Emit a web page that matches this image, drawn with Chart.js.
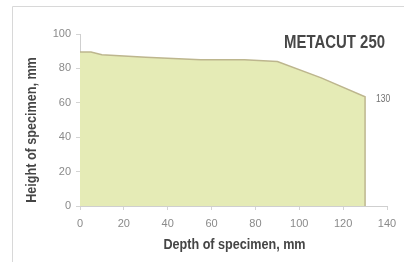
<!DOCTYPE html>
<html>
<head>
<meta charset="utf-8">
<script src="https://cdn.jsdelivr.net/npm/chart.js@4"></script>
<style>
html,body{margin:0;padding:0;background:#fff;}
#wrap{position:relative;width:404px;height:262px;}
</style>
</head>
<body>
<div id="wrap"><canvas id="c" width="404" height="262"></canvas></div>
<script>
const depth = [0, 5, 10, 30, 55, 75, 90, 110, 130, 130];
const height = [89.5, 89.5, 88, 86.5, 85, 85, 84, 74.5, 63.5, 0];
const xTicks = [0, 20, 40, 60, 80, 100, 120, 140];
const yTicks = [0, 20, 40, 60, 80, 100];
const titleText = "METACUT 250";
const endLabel = "130";
const xTitle = "Depth of specimen, mm";
const yTitle = "Height of specimen, mm";

const FONT = '"Liberation Sans", Arial, sans-serif';

function condensedText(ctx, text, x, y, sx, align) {
  ctx.save();
  ctx.translate(x, y);
  ctx.scale(sx, 1);
  ctx.textAlign = align;
  ctx.fillText(text, 0, 0);
  ctx.restore();
}

const decor = {
  id: 'decor',
  beforeDraw(chart) {
    const ctx = chart.ctx;
    ctx.save();
    ctx.strokeStyle = '#d8d8d8';
    ctx.lineWidth = 1;
    ctx.beginPath();
    ctx.moveTo(12.5, 262);
    ctx.lineTo(12.5, 6.5);
    ctx.lineTo(404, 6.5);
    ctx.stroke();
    ctx.restore();
  },
  afterDraw(chart) {
    const ctx = chart.ctx;
    const xs = chart.scales.x, ys = chart.scales.y;
    const area = chart.chartArea;
    ctx.save();
    ctx.textBaseline = 'middle';
    // main title
    ctx.fillStyle = '#474747';
    ctx.font = 'bold 18px ' + FONT;
    condensedText(ctx, titleText, xs.getPixelForValue(140) - 2, 43, 0.83, 'right');
    // end label
    const n = depth.length - 2;
    ctx.fillStyle = '#707070';
    ctx.font = '10px ' + FONT;
    condensedText(ctx, endLabel, xs.getPixelForValue(depth[n]) + 11, ys.getPixelForValue(height[n]) + 2, 0.85, 'left');
    // axis titles
    ctx.fillStyle = '#454545';
    ctx.font = 'bold 14px ' + FONT;
    condensedText(ctx, xTitle, (area.left + area.right) / 2 + 1, 245, 0.9, 'center');
    ctx.save();
    ctx.translate(32, (area.top + area.bottom) / 2 + 10);
    ctx.rotate(-Math.PI / 2);
    condensedText(ctx, yTitle, 0, 0, 0.9, 'center');
    ctx.restore();
    ctx.restore();
  }
};

new Chart(document.getElementById('c'), {
  type: 'line',
  data: {
    datasets: [{
      data: depth.map((d, i) => ({x: d, y: height[i]})),
      borderColor: '#bdb68e',
      borderWidth: 1.5,
      backgroundColor: '#e5ebb6',
      fill: 'origin',
      pointRadius: 0,
      tension: 0
    }]
  },
  options: {
    responsive: false,
    animation: false,
    events: [],
    layout: {padding: {left: 0, right: 17, top: 34, bottom: 0}},
    plugins: {legend: {display: false}, tooltip: {enabled: false}, title: {display: false}},
    scales: {
      x: {
        type: 'linear', min: 0, max: 140,
        afterBuildTicks(s) { s.ticks = xTicks.map(v => ({value: v})); },
        afterFit(s) { s.height = 56; },
        border: {color: '#cfcfcf', width: 1},
        grid: {drawOnChartArea: false, tickLength: 4, color: '#d4d4d4'},
        ticks: {color: '#8a8a8a', font: {family: FONT, size: 11}, padding: 7, maxRotation: 0}
      },
      y: {
        type: 'linear', min: 0, max: 100,
        afterBuildTicks(s) { s.ticks = yTicks.map(v => ({value: v})); },
        afterFit(s) { s.width = 80; },
        border: {color: '#cfcfcf', width: 1},
        grid: {drawOnChartArea: false, tickLength: 4, color: '#d4d4d4'},
        ticks: {color: '#8a8a8a', font: {family: FONT, size: 11}, padding: 5}
      }
    }
  },
  plugins: [decor]
});
</script>
</body>
</html>
